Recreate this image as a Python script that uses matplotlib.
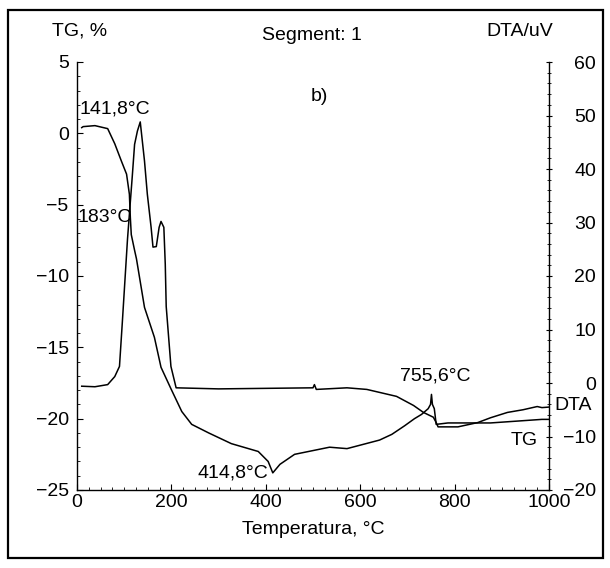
import matplotlib
matplotlib.use("Agg")
import matplotlib.pyplot as plt
from matplotlib.patches import Rectangle
from matplotlib.ticker import MultipleLocator

plt.rcParams['font.family'] = ['Liberation Sans Narrow', 'Liberation Sans', 'DejaVu Sans']
plt.rcParams['font.size'] = 14

# TG curve (left axis, %)
tg_temp = [10, 13, 38, 65, 80, 94, 105, 111, 113, 115, 122, 126, 143, 164, 178, 199,
           222, 243, 279, 327, 384, 405, 414.8, 430, 461, 535, 572, 641, 667, 694,
           715, 730, 744, 749, 751, 753, 757, 761, 786, 876, 985, 1000]
tg_val = [0.4, 0.47, 0.54, 0.33, -0.73, -1.94, -2.86, -4.27, -5.9, -7.1, -8.2, -8.8,
          -12.2, -14.3, -16.4, -17.9, -19.5, -20.4, -21.0, -21.75, -22.3, -23.0, -23.8,
          -23.2, -22.5, -22.0, -22.1, -21.5, -21.1, -20.5, -20.0, -19.7, -19.3, -19.0,
          -18.3, -19.0, -19.3, -20.4, -20.3, -20.3, -20.05, -20.05]

# DTA curve (right axis, uV)
dta_temp = [10, 38, 65, 80, 90, 96, 107, 117, 122, 128, 134, 143, 149, 157, 161, 168,
            174, 178, 184, 187, 189, 199, 210, 300, 400, 500, 503, 507, 572, 614, 677,
            713, 734, 755, 761, 765, 807, 849, 876, 912, 945, 975, 985, 1000]
dta_val = [-0.6, -0.7, -0.3, 1.2, 3.1, 11.3, 26.9, 38.5, 44.6, 47.1, 48.8, 41.5, 35.3,
           29.1, 25.4, 25.5, 29.1, 30.2, 29.1, 22.2, 14.3, 3.1, -0.9, -1.1, -1.0, -0.9,
           -0.3, -1.2, -0.9, -1.2, -2.5, -4.2, -5.5, -6.4, -7.4, -8.2, -8.2, -7.4, -6.5,
           -5.5, -5.0, -4.4, -4.6, -4.5]

x_ticks = [0, 200, 400, 600, 800, 1000]
tg_ticks = [5, 0, -5, -10, -15, -20, -25]
dta_ticks = [60, 50, 40, 30, 20, 10, 0, -10, -20]

W, H = 610, 568
fig = plt.figure(figsize=(W / 100, H / 100), dpi=100)
x0, x1 = 77 / W, 549 / W
y0, y1 = 1 - 490 / H, 1 - 62 / H
ax = fig.add_axes([x0, y0, x1 - x0, y1 - y0])
ax2 = ax.twinx()

ax.plot(tg_temp, tg_val, color='black', lw=1.1)
ax2.plot(dta_temp, dta_val, color='black', lw=1.1)

ax.set_xlim(0, 1000)
ax.set_ylim(-25, 5)
ax2.set_ylim(-20, 60)
ax.set_xticks(x_ticks)
ax.set_yticks(tg_ticks)
ax2.set_yticks(dta_ticks)
ax.xaxis.set_minor_locator(MultipleLocator(25))
ax.yaxis.set_minor_locator(MultipleLocator(1))
ax2.yaxis.set_minor_locator(MultipleLocator(2))

for a in (ax, ax2):
    a.spines['top'].set_visible(False)
    for s in a.spines.values():
        s.set_linewidth(1.0)
ax.spines['right'].set_visible(False)
ax2.spines['left'].set_visible(False)
ax2.spines['bottom'].set_visible(False)

ax.tick_params(axis='both', which='major', direction='in', length=4, width=0.8)
ax.tick_params(axis='both', which='minor', direction='in', length=2, width=0.6)
ax.tick_params(axis='y', pad=6)
ax.tick_params(axis='x', pad=3)
ax2.tick_params(axis='y', which='major', direction='inout', length=5, width=0.8, pad=31.5)
ax2.tick_params(axis='y', which='minor', direction='inout', length=3, width=0.6)
plt.setp(ax2.get_yticklabels(), ha='right')

ax.set_xlabel('Temperatura, °C', labelpad=7)

# annotations
ax.text(5, 1.7, '141,8°C', ha='left', va='center')
ax.text(1, -5.9, '183°C', ha='left', va='center')
ax.text(405, -23.8, '414,8°C', ha='right', va='center')
ax2.text(760, 1.3, '755,6°C', ha='center', va='center')
ax.text(513, 2.6, 'b)', ha='center', va='center')
ax.text(977, -21.5, 'TG', ha='right', va='center')

fig.text(80 / W, 1 - 31 / H, 'TG, %', ha='center', va='center')
fig.text(312 / W, 1 - 35 / H, 'Segment: 1', ha='center', va='center')
fig.text(520 / W, 1 - 31 / H, 'DTA/uV', ha='center', va='center')
fig.text(592 / W, 1 - 405 / H, 'DTA', ha='right', va='center')

fig.patches.append(Rectangle((8 / W, 1 - 558 / H), 595 / W, 548 / H, transform=fig.transFigure,
                             fill=False, edgecolor='black', lw=1.6))

fig.savefig('out.png', dpi=100)
